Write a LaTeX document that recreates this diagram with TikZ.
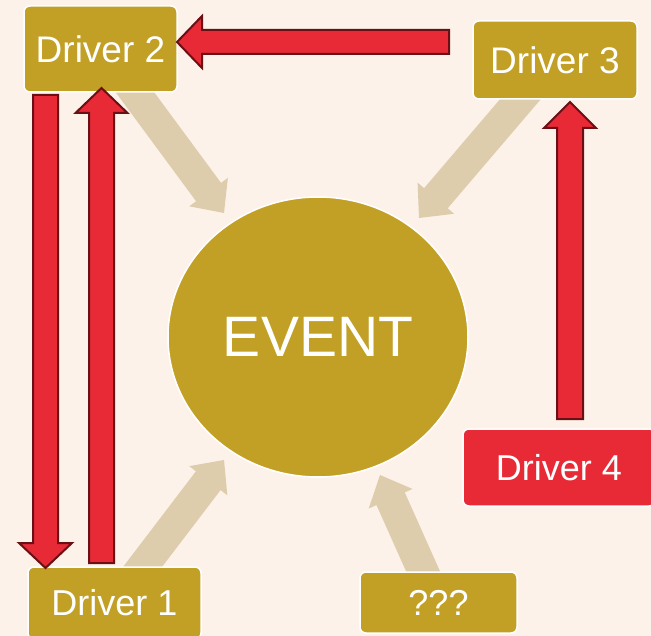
\documentclass[tikz,border=0pt]{standalone}
\usepackage{fontspec}
\setmainfont{Liberation Sans}
\usetikzlibrary{calc,shapes.geometric}
\pgfdeclarelayer{back}
\pgfdeclarelayer{arrowlayer}
\pgfsetlayers{back,arrowlayer,main}
\definecolor{bgc}{HTML}{FDF2E9}
\definecolor{goldc}{HTML}{C1A025}
\definecolor{redc}{HTML}{E72A36}
\definecolor{darkredc}{HTML}{6A1015}
\definecolor{beigec}{HTML}{DECDAC}
\tikzset{
  box/.style={fill=goldc, draw=white, line width=1.5pt, rounded corners=6pt,
    text=white, inner sep=0pt, font=\fontsize{37}{44}\selectfont},
  redbox/.style={box, fill=redc},
  eventnode/.style={ellipse, fill=goldc, draw=white, line width=1.5pt,
    text=white, inner sep=0pt, minimum width=300pt, minimum height=280pt,
    font=\fontsize{57}{66}\selectfont},
  redarrow/.style={fill=redc, draw=darkredc, line width=2pt, line join=miter},
  beigearrow/.style={fill=beigec},
}
% #1 style, #2 start, #3 tip, #4 half shaft, #5 half head, #6 head length
\newcommand\blockarrow[6][]{%
  \coordinate (bahead) at ($(#3)!#6!(#2)$);
  \path[#1] ($(#2)!#4!90:(#3)$) -- ($(bahead)!#4!90:(#3)$)
    -- ($(bahead)!#5!90:(#3)$) -- (#3) -- ($(bahead)!#5!-90:(#3)$)
    -- ($(bahead)!#4!-90:(#3)$) -- ($(#2)!#4!-90:(#3)$) -- cycle;
}
\begin{document}
\begin{tikzpicture}[x=1pt,y=-1pt]
\useasboundingbox (0,0) rectangle (651,636);
\begin{pgfonlayer}{back}
  \fill[bgc] (0,0) rectangle (651,636);
\end{pgfonlayer}

% nodes
\node[box, minimum width=153pt, minimum height=86pt] (d2) at (100.5,49) {Driver 2};
\node[box, minimum width=164pt, minimum height=78pt] (d3) at (555,60) {Driver 3};
\node[box, minimum width=173pt, minimum height=72pt, font=\fontsize{36}{43}\selectfont] (d1) at (114.5,603) {Driver 1};
\node[box, minimum width=157pt, minimum height=61pt, font=\fontsize{36}{43}\selectfont] (q) at (438.5,602.5) {???};
\node[redbox, minimum width=192pt, minimum height=77pt, font=\fontsize{36}{43}\selectfont] (d4) at (559,467.5) {Driver 4};
\node[eventnode] (ev) at (318,337) {EVENT};

% connector end points
\coordinate (r1s) at (449,42);   \coordinate (r1t) at (177,42);
\coordinate (r2s) at (45.5,95);  \coordinate (r2t) at (45.5,568);
\coordinate (r3s) at (101.5,563);\coordinate (r3t) at (101.5,88);
\coordinate (r4s) at (570,419);  \coordinate (r4t) at (570,102);
\coordinate (b1s) at (123.6,76.9); \coordinate (b1t) at (224,213);
\coordinate (b2s) at (531,86.8);   \coordinate (b2t) at (419,218);
\coordinate (b3s) at (131.9,580.9);\coordinate (b3t) at (224,460);
\coordinate (b4s) at (430.2,587.3);\coordinate (b4t) at (380,475);

% beige arrows into EVENT (behind the boxes)
\begin{pgfonlayer}{arrowlayer}
  \blockarrow[beigearrow]{b1s}{b1t}{15.5pt}{24pt}{26pt}
  \blockarrow[beigearrow]{b2s}{b2t}{15.5pt}{24pt}{26pt}
  \blockarrow[beigearrow]{b3s}{b3t}{15.5pt}{24pt}{26pt}
  \blockarrow[beigearrow]{b4s}{b4t}{15.5pt}{24pt}{26pt}
\end{pgfonlayer}

% red arrows between drivers
\blockarrow[redarrow]{r1s}{r1t}{12pt}{26pt}{25pt}
\blockarrow[redarrow]{r2s}{r2t}{12.5pt}{26.5pt}{25pt}
\blockarrow[redarrow]{r3s}{r3t}{12.5pt}{26pt}{25pt}
\blockarrow[redarrow]{r4s}{r4t}{13pt}{26pt}{26pt}
\end{tikzpicture}
\end{document}
